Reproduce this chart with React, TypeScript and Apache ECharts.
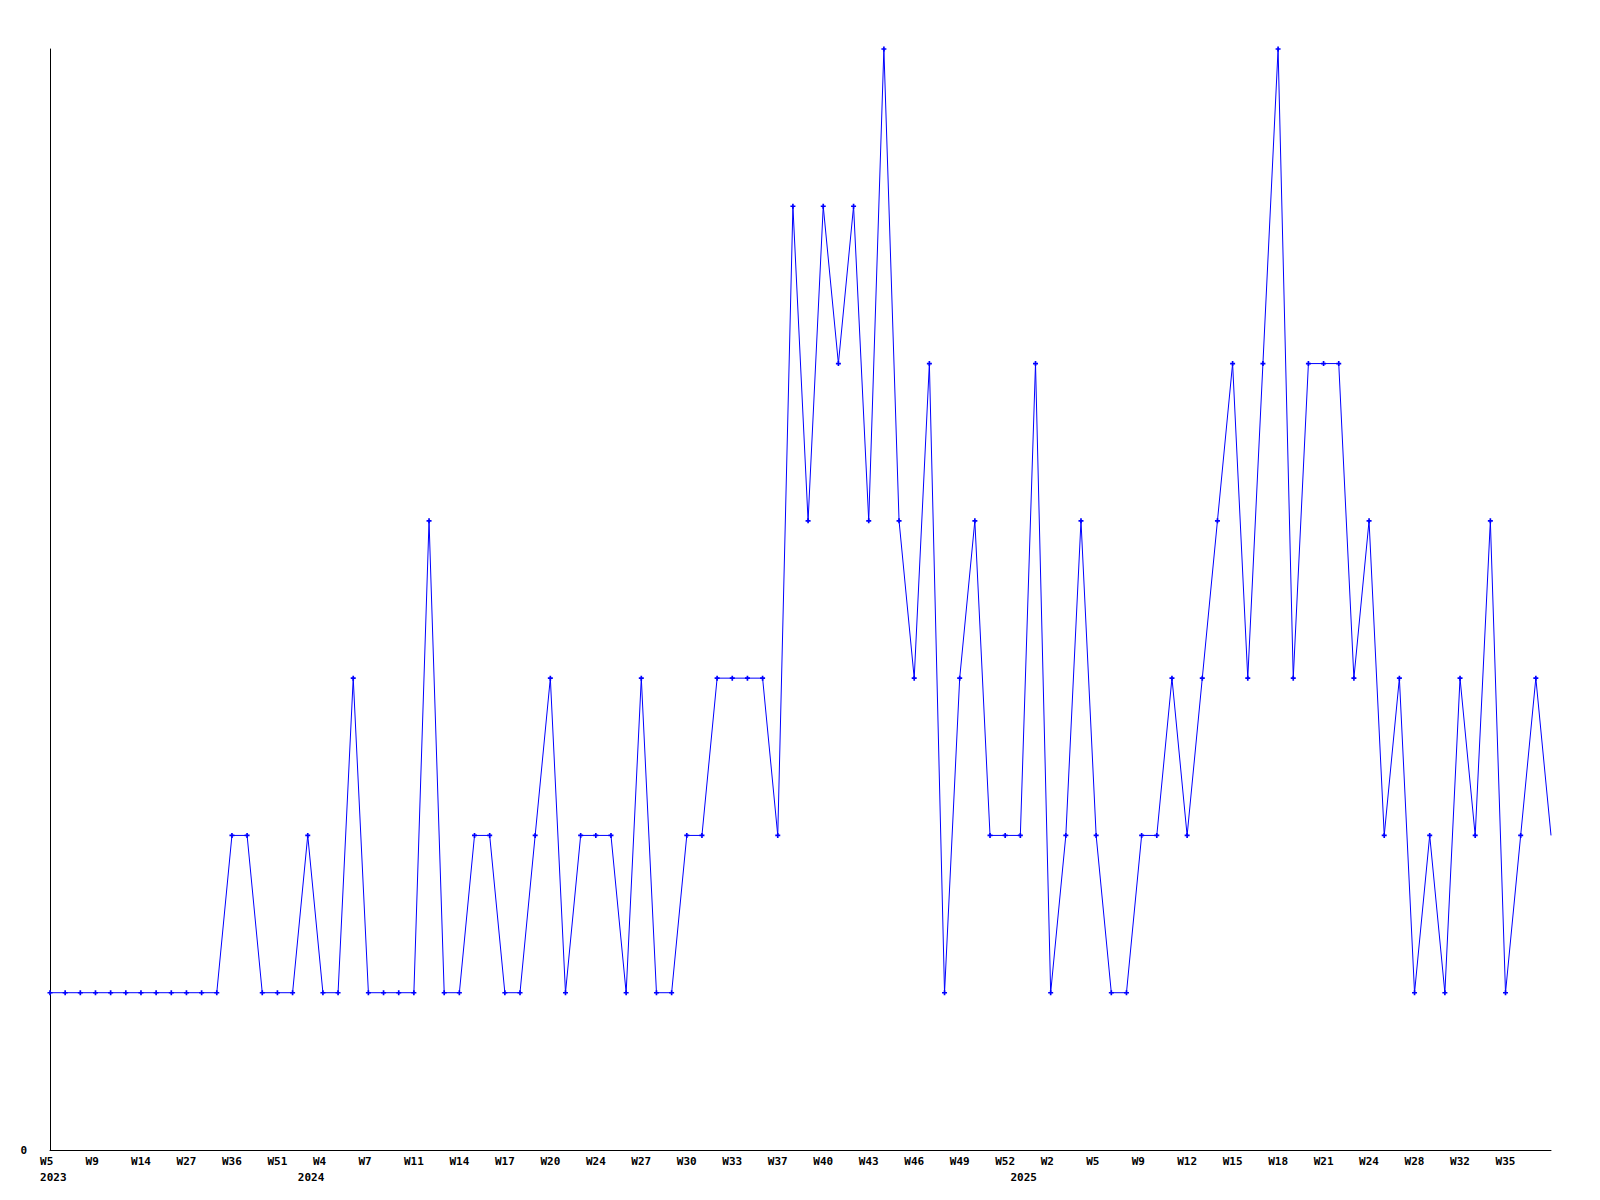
import React, { useEffect, useRef } from "react";
import * as echarts from "echarts";

// Weekly counts, one per point (left to right)
const counts: number[] = [
  1, 1, 1, 1, 1, 1, 1, 1, 1, 1, 1, 1,
  2, 2, 1, 1, 1, 2, 1, 1, 3, 1,
  1, 1, 1, 4, 1, 1, 2, 2, 1, 1,
  2, 3, 1, 2, 2, 2, 1, 3, 1, 1,
  2, 2, 3, 3, 3, 3, 2, 6, 4, 6,
  5, 6, 4, 7, 4, 3, 5, 1, 3, 4,
  2, 2, 2, 5, 1, 2, 4, 2, 1, 1,
  2, 2, 3, 2, 3, 4, 5, 3, 5, 7,
  3, 5, 5, 5, 3, 4, 2, 3, 1, 2,
  1, 3, 2, 4, 1, 2, 3, 2,
];

// Week tick labels: one for every 3rd point, starting at the first
const weekLabels: string[] = [
  "W5", "W9", "W14", "W27", "W36", "W51", "W4", "W7", "W11", "W14", "W17",
  "W20", "W24", "W27", "W30", "W33", "W37", "W40", "W43", "W46", "W49", "W52",
  "W2", "W5", "W9", "W12", "W15", "W18", "W21", "W24", "W28", "W32", "W35",
];
const weekLabelEvery = 3;

// Year labels, placed at the first point of each year
const yearLabels: string[] = ["2023", "2024", "2025"];
const yearStartIndex: number[] = [0, 17, 64];

const FONT = "DejaVu Sans Mono";

export default function App() {
  const ref = useRef<HTMLDivElement>(null);

  useEffect(() => {
    if (!ref.current) return;
    const chart = echarts.init(ref.current, undefined, { renderer: "svg" });
    const last = counts.length - 1;
    const data = counts.map((v, i) =>
      i === last ? { value: [i, v], symbol: "none" } : { value: [i, v] }
    );
    // labels are left-aligned a little before their point; emulate with monospace padding / shift
    const pad = (s: string) => (s.length < 3 ? s + "\u00a0".repeat(3 - s.length) : s);
    const yearShift = 0.22;
    const yearPos = yearStartIndex.map((i) => i + yearShift);
    const labelStyle = {
      color: "#000",
      fontFamily: FONT,
      fontWeight: "bold" as const,
      fontSize: 11,
    };
    chart.setOption({
      animation: false,
      backgroundColor: "#fff",
      grid: { left: 50, right: 49, top: 49, bottom: 50, containLabel: false },
      xAxis: [
        {
          type: "value",
          min: 0,
          max: last,
          interval: weekLabelEvery,
          position: "bottom",
          axisLine: { show: true, lineStyle: { color: "#000", width: 1 } },
          axisTick: { show: false },
          splitLine: { show: false },
          axisLabel: {
            ...labelStyle,
            margin: 6,
            showMaxLabel: false,
            formatter: (v: number) => {
              const k = Math.round(v / weekLabelEvery);
              return weekLabels[k] !== undefined ? pad(weekLabels[k]) : "";
            },
          },
        },
        {
          type: "value",
          min: 0,
          max: last,
          position: "bottom",
          axisLine: { show: false },
          axisTick: { show: false },
          splitLine: { show: false },
          axisLabel: {
            ...labelStyle,
            margin: 22,
            customValues: yearPos,
            formatter: (v: number) => {
              let best = 0;
              yearPos.forEach((p, i) => {
                if (Math.abs(p - v) < Math.abs(yearPos[best] - v)) best = i;
              });
              return yearLabels[best];
            },
          },
        },
      ],
      yAxis: {
        type: "value",
        min: 0,
        max: 7,
        axisLine: { show: true, lineStyle: { color: "#000", width: 1 } },
        axisTick: { show: false },
        splitLine: { show: false },
        axisLabel: {
          ...labelStyle,
          margin: 23,
          customValues: [0],
        },
      },
      series: [
        {
          type: "line",
          xAxisIndex: 0,
          data,
          symbol: "path://M2 0H4V2H6V4H4V6H2V4H0V2H2Z",
          symbolSize: 5,
          showAllSymbol: true,
          itemStyle: { color: "#0000ff" },
          lineStyle: { color: "#0000ff", width: 1 },
          emphasis: { disabled: true },
        },
      ],
    });
    return () => chart.dispose();
  }, []);

  return (
    <div
      ref={ref}
      style={{ position: "fixed", left: 0, top: 0, width: 1600, height: 1200, background: "#fff" }}
    />
  );
}
